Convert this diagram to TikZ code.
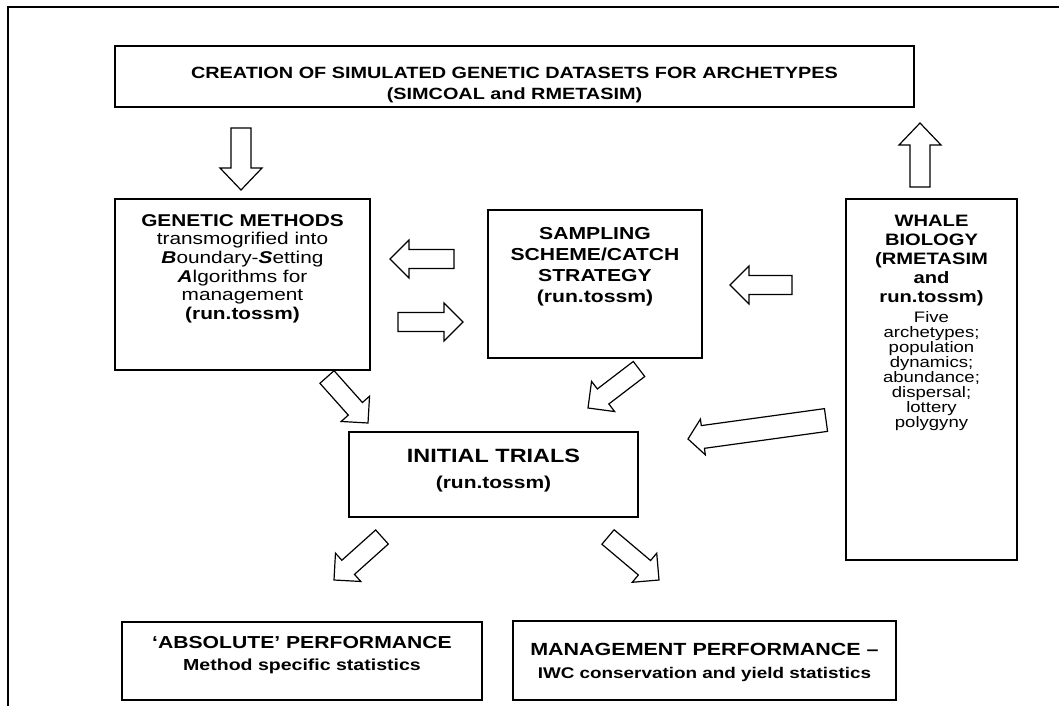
\documentclass[tikz,border=0pt]{standalone}
\usepackage{fontspec}
\setmainfont{Liberation Sans}[FakeStretch=1.22]
\usetikzlibrary{calc,positioning}

\begin{document}
\begin{tikzpicture}
[x=0.75pt, y=-0.75pt,
  boxDecorate/.style={draw, line width=1.4pt, inner sep=0pt},%
  textDecorate/.style={align=center, inner sep=0pt},%
  arrowDecorate/.style={draw, line width=0.9pt, fill=white, line join=miter}]
\useasboundingbox (0,0) rectangle (1059,706);
%% frame
\draw[line width=1.8pt] (8,706) -- (8,7) -- (1059,7);
%% boxes
\foreach \name/\x/\y/\w/\h in {create/514.5/76.5/599.25/45.75,
  gen/242.5/284.5/191.25/128.25, samp/595/284/160.5/111,
  whale/931.5/379.5/128.25/270.75, init/493.5/474.5/216.75/63.75,
  abs/302/661/270/58.5, mgmt/704.5/660.5/287.25/59.25}
{
  \node[boxDecorate, minimum width=\w pt, minimum height=\h pt] (\name) at (\x,\y) {};
}
%% texts
\node[textDecorate, below=16.5pt of create.north, font=\fontsize{12.2}{15.75}\selectfont\bfseries] (createText)
  {CREATION OF SIMULATED GENETIC DATASETS FOR ARCHETYPES\\ (SIMCOAL and RMETASIM)};
\node[textDecorate, below=12pt of gen.north, font=\fontsize{12.8}{14}\selectfont] (genText)
  {\textbf{GENETIC METHODS}\\ transmogrified into\\
   \textbf{\textit{B}}oundary-\textbf{\textit{S}}etting\\
   \textbf{\textit{A}}lgorithms for\\ management\\ \textbf{(run.tossm)}};
\node[textDecorate, below=13.2pt of samp.north, font=\fontsize{13}{15.75}\selectfont\bfseries] (sampText)
  {SAMPLING\\ SCHEME/CATCH\\ STRATEGY\\ (run.tossm)};
\node[textDecorate, below=12.5pt of whale.north, font=\fontsize{12.4}{14.2}\selectfont\bfseries] (whaleHead)
  {WHALE\\ BIOLOGY\\ (RMETASIM\\ and\\ run.tossm)};
\node[textDecorate, below=4.2pt of whaleHead.south, font=\fontsize{11.4}{11.25}\selectfont] (whaleBody)
  {Five\\ archetypes;\\ population\\ dynamics;\\ abundance;\\ dispersal;\\ lottery\\ polygyny};
\node[textDecorate, below=13pt of init.north, font=\fontsize{14.4}{19.5}\selectfont\bfseries] (initText)
  {INITIAL TRIALS\\ {\fontsize{12.9}{19.5}\selectfont (run.tossm)}};
\node[textDecorate, below=11pt of abs.north, font=\fontsize{13}{16.5}\selectfont\bfseries] (absText)
  {`ABSOLUTE' PERFORMANCE\\ {\fontsize{12}{16.5}\selectfont Method specific statistics}};
\node[textDecorate, below=17pt of mgmt.north, font=\fontsize{13.2}{17.25}\selectfont\bfseries] (mgmtText)
  {MANAGEMENT PERFORMANCE --\\ {\fontsize{11.6}{17.25}\selectfont IWC conservation and yield statistics}};
%% arrow ends
\foreach \name/\x/\y in {dnT/241/128, dnH/241/190, upT/920/187, upH/920/123,
  gsT/454/259, gsH/390/259, sgT/398/322, sgH/463/322, wsT/792/285, wsH/730/285,
  giT/327/377, giH/368/423, siT/639/369, siH/588/408, wiT/826/420, wiH/688/439,
  iaT/382/537, iaH/334/580, imT/608/537, imH/659/580}
{
  \coordinate (\name) at (\x,\y);
}
%% block arrows
\foreach \tail/\tip/\sw/\hw/\hl in {dnT/dnH/7.5pt/15.75pt/16.5pt, upT/upH/7.5pt/15.75pt/16.5pt,
  gsT/gsH/7.1pt/14.25pt/14.25pt, sgT/sgH/7.1pt/14.25pt/14.25pt, wsT/wsH/7.1pt/14.25pt/14.25pt,
  giT/giH/7.1pt/14.25pt/14.25pt, siT/siH/7.1pt/14.25pt/14.25pt, wiT/wiH/8.6pt/13.5pt/11.25pt,
  iaT/iaH/7.1pt/14.25pt/14.25pt, imT/imH/7.1pt/14.25pt/14.25pt}
{
  \coordinate (ah) at ($(\tip)!\hl!(\tail)$);
  \draw[arrowDecorate] ($(\tail)!\sw!90:(\tip)$) -- ($(ah)!\sw!90:(\tip)$)
    -- ($(ah)!\hw!90:(\tip)$) -- (\tip) -- ($(ah)!\hw!-90:(\tip)$)
    -- ($(ah)!\sw!-90:(\tip)$) -- ($(\tail)!\sw!-90:(\tip)$) -- cycle;
}
\end{tikzpicture}
\end{document}
